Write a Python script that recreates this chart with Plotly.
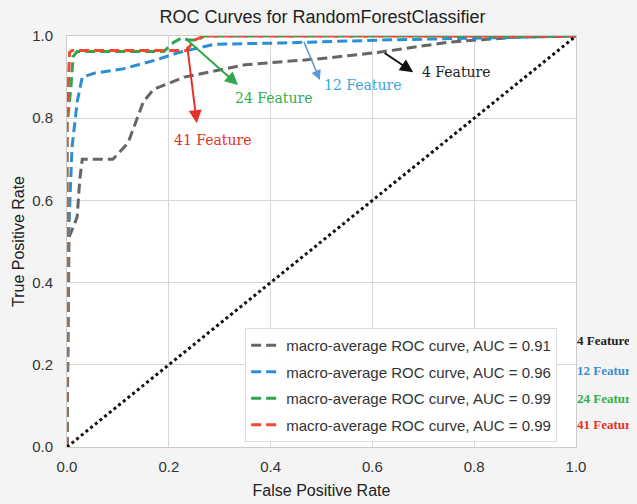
import plotly.graph_objects as go

# ---- data ----
fpr_4 = [0, 0.004, 0.02, 0.025, 0.03, 0.09, 0.105, 0.12, 0.135, 0.15, 0.17, 0.19, 0.23, 0.35, 0.50, 0.61, 0.75, 0.88, 1.0]
tpr_4 = [0, 0.51, 0.56, 0.65, 0.70, 0.70, 0.72, 0.74, 0.79, 0.84, 0.87, 0.88, 0.90, 0.93, 0.945, 0.96, 0.985, 0.997, 1.0]

fpr_12 = [0, 0.003, 0.006, 0.01, 0.02, 0.03, 0.055, 0.11, 0.17, 0.22, 0.29, 0.42, 0.615, 0.81, 1.0]
tpr_12 = [0, 0.50, 0.61, 0.73, 0.84, 0.90, 0.91, 0.92, 0.94, 0.96, 0.98, 0.983, 0.99, 0.995, 1.0]

fpr_24 = [0, 0, 0.008, 0.012, 0.02, 0.19, 0.21, 0.225, 0.24, 0.255, 0.27, 1.0]
tpr_24 = [0, 0.78, 0.88, 0.95, 0.962, 0.962, 0.985, 0.995, 0.99, 0.99, 1.0, 1.0]

fpr_41 = [0, 0, 0.005, 0.01, 0.235, 0.25, 0.27, 1.0]
tpr_41 = [0, 0.80, 0.96, 0.965, 0.965, 0.99, 1.0, 1.0]

chance = [0.0, 1.0]

auc_values = [0.91, 0.96, 0.99, 0.99]
feature_names = ["4 Feature", "12 Feature", "24 Feature", "41 Feature"]
ticks = [0.0, 0.2, 0.4, 0.6, 0.8, 1.0]
tick_text = ["0.0", "0.2", "0.4", "0.6", "0.8", "1.0"]

# arrow tails (on curve) and heads, plus label positions (data coords)
arrow_tail_x = [0.621, 0.464, 0.232, 0.236]
arrow_tail_y = [0.961, 0.990, 0.995, 0.978]
arrow_head_x = [0.680, 0.497, 0.336, 0.255]
arrow_head_y = [0.912, 0.893, 0.881, 0.788]
label_x = [0.693, 0.501, 0.326, 0.206]
label_y = [0.912, 0.881, 0.849, 0.747]
side_label_y = [0.260, 0.187, 0.119, 0.054]

line_colors = ["#666666", "#2a8fd6", "#2ca84a", "#f04a32"]
text_colors = ["#222222", "#3aa6e0", "#2fb04c", "#e8302a"]
side_colors = ["#222222", "#3a8fd0", "#2fb04c", "#e8302a"]
arrow_colors = ["#111111", "#5b9bd5", "#2ea84a", "#e8302a"]

fig = go.Figure()

series = [(fpr_4, tpr_4), (fpr_12, tpr_12), (fpr_24, tpr_24), (fpr_41, tpr_41)]
for i, (fx, ty) in enumerate(series):
    fig.add_trace(go.Scatter(
        x=fx, y=ty, mode="lines",
        line=dict(color=line_colors[i], width=3, dash="10px,5px"),
        name=f"macro-average ROC curve, AUC = {auc_values[i]:.2f}",
        legendgroup=f"g{i}",
    ))

fig.add_trace(go.Scatter(
    x=chance, y=chance, mode="lines",
    line=dict(color="#111111", width=3, dash="3px,3px"),
    showlegend=False,
))

annotations = []
for i in range(4):
    annotations.append(dict(
        x=arrow_head_x[i], y=arrow_head_y[i], xref="x", yref="y",
        ax=arrow_tail_x[i], ay=arrow_tail_y[i], axref="x", ayref="y",
        text="", showarrow=True, arrowhead=2, arrowsize=1.3,
        arrowwidth=1.5 if i == 1 else 2, arrowcolor=arrow_colors[i],
    ))
    annotations.append(dict(
        x=label_x[i], y=label_y[i], xref="x", yref="y",
        text=feature_names[i], showarrow=False, xanchor="left", yanchor="middle",
        font=dict(family="DejaVu Serif", size=14, color=text_colors[i]),
    ))
    annotations.append(dict(
        x=1.0, y=side_label_y[i], xref="paper", yref="paper",
        text="<b>" + feature_names[i] + "</b>", showarrow=False, xanchor="left", yanchor="middle",
        xshift=-1,
        font=dict(family="Liberation Serif", size=13, color=side_colors[i]),
    ))

# page body has an 8px margin: figure is sized so it ends at the window edge
fig.update_layout(
    width=629, height=496,
    margin=dict(l=59, r=61, t=28, b=57),
    paper_bgcolor="#f4f4f4",
    plot_bgcolor="#ffffff",
    title=dict(text="ROC Curves for RandomForestClassifier", x=0.5, xanchor="center",
               y=0.982, yanchor="middle",
               font=dict(family="Liberation Sans", size=18, color="#222222")),
    font=dict(family="Liberation Sans", color="#333333"),
    legend=dict(x=0.35, y=0.012, xanchor="left", yanchor="bottom",
                bgcolor="rgba(255,255,255,0.92)", bordercolor="#dddddd", borderwidth=1,
                font=dict(family="Liberation Sans", size=15, color="#333333"),
                tracegroupgap=4),
    annotations=annotations,
    showlegend=True,
)

fig.update_xaxes(range=[0, 1], tickvals=ticks, ticktext=tick_text, automargin=False,
                 showgrid=True, gridcolor="#d6d6d6", gridwidth=1,
                 showline=True, linecolor="#cccccc", linewidth=1, mirror=True,
                 zeroline=False, ticks="", ticklabelstandoff=6,
                 tickfont=dict(size=15, color="#333333"),
                 title=dict(text="False Positive Rate", font=dict(size=16, color="#222222"), standoff=10))
fig.update_yaxes(range=[0, 1], tickvals=ticks, ticktext=tick_text, automargin=False,
                 showgrid=True, gridcolor="#d6d6d6", gridwidth=1,
                 showline=True, linecolor="#cccccc", linewidth=1, mirror=True,
                 zeroline=False, ticks="", ticklabelstandoff=10,
                 tickfont=dict(size=15, color="#333333"),
                 title=dict(text="True Positive Rate", font=dict(size=16, color="#222222"), standoff=3))

fig.write_html("out.html", post_script="document.body.style.background='#f4f4f4';")
